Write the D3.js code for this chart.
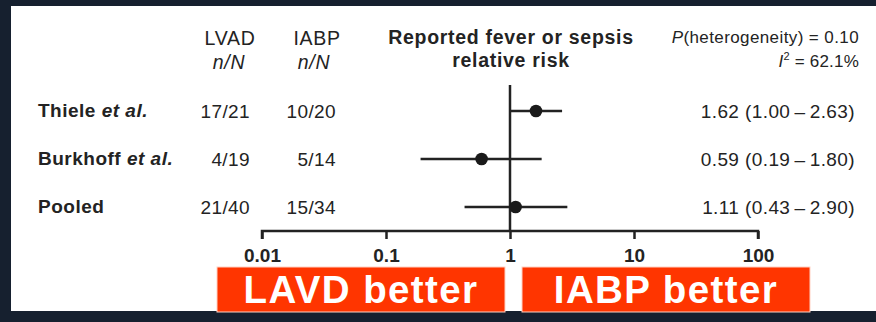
<!DOCTYPE html>
<html>
<head>
<meta charset="utf-8">
<script src="https://cdn.jsdelivr.net/npm/d3@7"></script>
<style>
  body { margin: 0; background: #16202f; }
  svg { display: block; font-family: "Liberation Sans", Arial, Helvetica, sans-serif; }
  .txt { fill: #232323; }
</style>
</head>
<body>
<div id="chart"></div>
<script>
// data
const studies = ["Thiele", "Burkhoff", "Pooled"];
const etAl = [true, true, false];
const lvadN = ["17/21", "4/19", "21/40"];
const iabpN = ["10/20", "5/14", "15/34"];
const rr = [1.62, 0.59, 1.11];
const ciLow = [1.00, 0.19, 0.43];
const ciHigh = [2.63, 1.80, 2.90];
const rrLabels = ["1.62 (1.00\u2009\u2013\u20092.63)", "0.59 (0.19\u2009\u2013\u20091.80)", "1.11 (0.43\u2009\u2013\u20092.90)"];
const tickValues = [0.01, 0.1, 1, 10, 100];
const tickLabels = ["0.01", "0.1", "1", "10", "100"];
const betterLabels = ["LAVD better", "IABP better"];

const W = 876, H = 322;

const svg = d3.select("#chart").append("svg")
    .attr("width", W)
    .attr("height", H);

// background + white panel
svg.append("rect").attr("width", W).attr("height", H).attr("fill", "#16202f");
svg.append("rect").attr("x", 11).attr("y", 6).attr("width", W - 11).attr("height", 305).attr("fill", "#ffffff");

// scales
const x = d3.scaleLog().domain([0.01, 100]).range([262, 758]);
const y = d3.scalePoint().domain(studies).range([111, 207]);
const axisY = 231;

// header
const head = svg.append("g").attr("class", "txt")
    .style("font-size", "19.5px").style("letter-spacing", "0.7px");
head.append("text").attr("x", 230).attr("y", 45).attr("text-anchor", "middle").text("LVAD");
head.append("text").attr("x", 229).attr("y", 69).attr("text-anchor", "middle")
    .style("font-style", "italic").text("n/N");
head.append("text").attr("x", 317).attr("y", 45).attr("text-anchor", "middle").text("IABP");
head.append("text").attr("x", 314).attr("y", 69).attr("text-anchor", "middle")
    .style("font-style", "italic").text("n/N");
head.append("text").attr("x", 511).attr("y", 44).attr("text-anchor", "middle")
    .style("font-weight", "bold").text("Reported fever or sepsis");
head.append("text").attr("x", 511).attr("y", 67).attr("text-anchor", "middle")
    .style("font-weight", "bold").text("relative risk");

let pt = head.append("text").attr("x", 859).attr("y", 43).attr("text-anchor", "end")
    .style("font-size", "17px").style("letter-spacing", "0.4px");
pt.append("tspan").style("font-style", "italic").text("P");
pt.append("tspan").text("(heterogeneity) = 0.10");

let it = head.append("text").attr("x", 859).attr("y", 67).attr("text-anchor", "end")
    .style("font-size", "17px").style("letter-spacing", "0.2px");
it.append("tspan").style("font-style", "italic").text("I");
it.append("tspan").attr("dy", -7).style("font-size", "11px").text("2");
it.append("tspan").attr("dy", 7).text(" = 62.1%");

// rows
const rows = svg.selectAll(".row")
    .data(studies)
    .enter().append("g")
    .attr("class", "row txt")
    .style("font-size", "19px");

rows.each(function (d, i) {
    let g = d3.select(this);
    let name = g.append("text").attr("x", 38).attr("y", y(d) + 6)
        .style("font-weight", "bold").style("letter-spacing", "0.5px");
    name.append("tspan").text(d);
    if (etAl[i]) name.append("tspan").style("font-style", "italic").text(" et al.");

    g.append("text").attr("x", 250).attr("y", y(d) + 7).attr("text-anchor", "end")
        .style("letter-spacing", "0.4px").text(lvadN[i]);
    g.append("text").attr("x", 336).attr("y", y(d) + 7).attr("text-anchor", "end")
        .style("letter-spacing", "0.4px").text(iabpN[i]);
    g.append("text").attr("x", 855).attr("y", y(d) + 7).attr("text-anchor", "end")
        .style("letter-spacing", "0.4px").text(rrLabels[i]);
});

// reference line at 1
svg.append("line")
    .attr("x1", x(1)).attr("x2", x(1))
    .attr("y1", 85).attr("y2", axisY)
    .attr("stroke", "#222").attr("stroke-width", 2.5);

// CI lines
svg.selectAll(".ci")
    .data(studies)
    .enter().append("line")
    .attr("class", "ci")
    .attr("x1", (d, i) => x(ciLow[i]))
    .attr("x2", (d, i) => x(ciHigh[i]))
    .attr("y1", d => y(d))
    .attr("y2", d => y(d))
    .attr("stroke", "#222")
    .attr("stroke-width", 2.5);

// point estimates
svg.selectAll(".dot")
    .data(studies)
    .enter().append("circle")
    .attr("class", "dot")
    .attr("cx", (d, i) => x(rr[i]))
    .attr("cy", d => y(d))
    .attr("r", 6.3)
    .attr("fill", "#1a1a1a");

// x axis
const xAxis = d3.axisBottom(x)
    .tickValues(tickValues)
    .tickFormat((d, i) => tickLabels[i])
    .tickSize(8)
    .tickPadding(6);

const ax = svg.append("g")
    .attr("transform", "translate(0," + axisY + ")")
    .call(xAxis);

ax.select(".domain").attr("stroke", "#222").attr("stroke-width", 2.5)
    .attr("d", "M" + x(0.01) + ",8V0H" + x(100) + "V8");
ax.selectAll(".tick line").attr("stroke", "#222").attr("stroke-width", 2.5);
ax.selectAll(".tick text")
    .attr("fill", "#232323")
    .style("font-family", "Liberation Sans, Arial, sans-serif")
    .style("font-size", "19px")
    .style("font-weight", "bold")
    .attr("dy", null)
    .attr("y", 31);

// "better" boxes
const boxX = [217, 522];
const boxW = 288;
const boxes = svg.selectAll(".better")
    .data(betterLabels)
    .enter().append("g")
    .attr("class", "better")
    .attr("transform", (d, i) => "translate(" + boxX[i] + ",267)");

boxes.append("rect")
    .attr("width", boxW).attr("height", 45)
    .attr("fill", "#ff3500")
    .attr("stroke", "#ffd2c4").attr("stroke-width", 1);

boxes.append("text")
    .attr("x", boxW / 2).attr("y", 36)
    .attr("text-anchor", "middle")
    .attr("fill", "#ffffff")
    .style("font-size", "38.5px")
    .style("font-weight", "bold")
    .style("letter-spacing", "1.4px")
    .text(d => d);
</script>
</body>
</html>
